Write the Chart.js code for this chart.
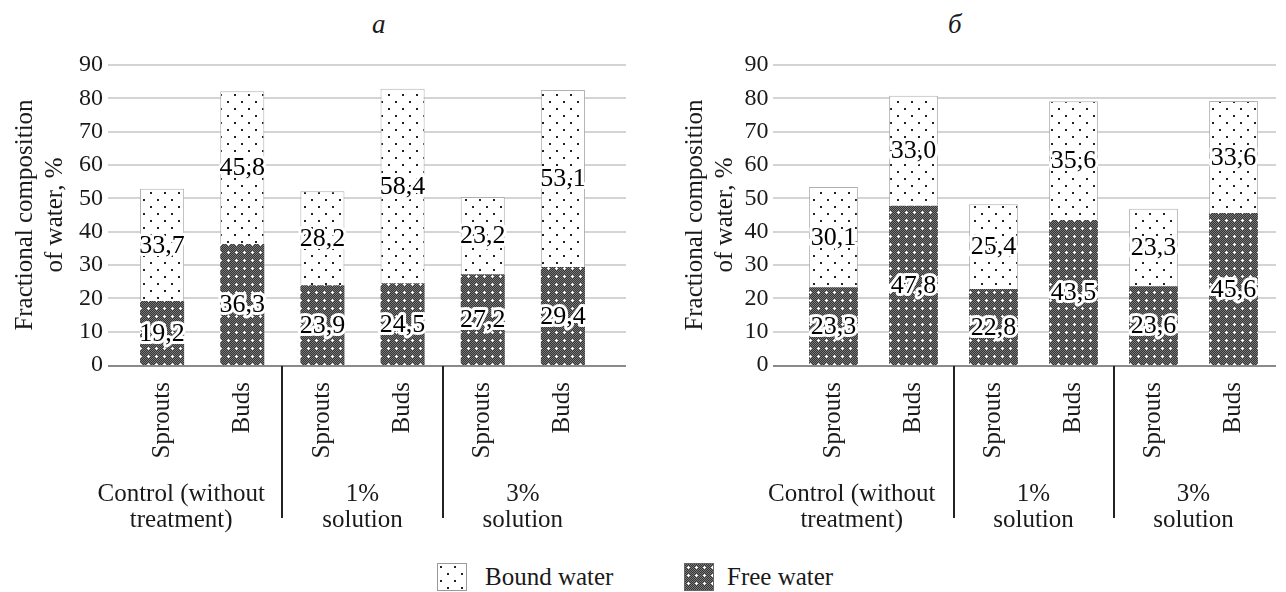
<!DOCTYPE html>
<html>
<head>
<meta charset="utf-8">
<script src="https://cdn.jsdelivr.net/npm/chart.js@4.4.0/dist/chart.umd.min.js"></script>
<style>
  html, body { margin: 0; padding: 0; background: #fff; }
  body { width: 1286px; height: 592px; position: relative; overflow: hidden;
         font-family: 'Liberation Serif', 'DejaVu Serif', serif; color: #1a1a1a; }
  .wrap { position: absolute; top: 0; height: 545px; }
  #wa { left: 0; width: 643px; }
  #wb { left: 670px; width: 616px; }
  .ttl { position: absolute; top: 8px; font-style: italic; font-size: 27px; line-height: 32px; }
  .lg-box { position: absolute; top: 563px; width: 30px; height: 28px; }
  .lg-txt { position: absolute; top: 563px; font-size: 25px; line-height: 28px; white-space: nowrap; }
</style>
</head>
<body>
<div class="ttl" id="ta" style="left:372px;">а</div>
<div class="ttl" id="tb" style="left:948px;">б</div>
<div class="wrap" id="wa"><canvas id="ca"></canvas></div>
<div class="wrap" id="wb"><canvas id="cb"></canvas></div>
<canvas class="lg-box" id="lgBound" width="30" height="28" style="left:437px;"></canvas>
<div class="lg-txt" style="left:485px;">Bound water</div>
<canvas class="lg-box" id="lgFree" width="30" height="28" style="left:684px;"></canvas>
<div class="lg-txt" style="left:727px;">Free water</div>
<script>
// ---------------- data ----------------
const categories = ['Sprouts', 'Buds', 'Sprouts', 'Buds', 'Sprouts', 'Buds'];
const groupLabels = [['Control (without', 'treatment)'], ['1%', 'solution'], ['3%', 'solution']];
const yTitle = ['Fractional composition', 'of water, %'];
const seriesNames = ['Free water', 'Bound water'];
const yMin = 0, yMax = 90, yStep = 10;

const freeA  = [19.2, 36.3, 23.9, 24.5, 27.2, 29.4];
const boundA = [33.7, 45.8, 28.2, 58.4, 23.2, 53.1];
const freeB  = [23.3, 47.8, 22.8, 43.5, 23.6, 45.6];
const boundB = [30.1, 33.0, 25.4, 35.6, 23.3, 33.6];

// ---------------- styling ----------------
const FONT = "'Liberation Serif', 'DejaVu Serif', serif";
const INK = '#1a1a1a';

function makeDotTile() {
  const c = document.createElement('canvas'); c.width = 14; c.height = 14;
  const g = c.getContext('2d');
  g.fillStyle = '#fff'; g.fillRect(0, 0, 14, 14);
  g.fillStyle = '#222';
  g.fillRect(3, 3, 2, 2); g.fillRect(10, 10, 2, 2);
  return c;
}
function makeFreeTile() {
  const c = document.createElement('canvas'); c.width = 8; c.height = 8;
  const g = c.getContext('2d');
  g.fillStyle = '#333'; g.fillRect(0, 0, 8, 8);
  g.fillStyle = '#7a7a7a';
  for (let y = 0; y < 8; y++) for (let x = 0; x < 8; x++) if ((x + y) % 2 === 0) g.fillRect(x, y, 1, 1);
  g.fillStyle = '#fff';
  g.fillRect(3, 4, 3, 1); g.fillRect(4, 3, 1, 3);
  return c;
}
const dotTile = makeDotTile();
const freeTile = makeFreeTile();

function patterns(ctx) {
  return { dot: ctx.createPattern(dotTile, 'repeat'), free: ctx.createPattern(freeTile, 'repeat') };
}

const fmt = v => v.toFixed(1).replace('.', ',');

const gridPlugin = {
  id: 'customGrid',
  beforeDatasetsDraw(chart, args, o) {
    const ctx = chart.ctx, ys = chart.scales.y;
    ctx.save();
    ctx.lineWidth = 2;
    ctx.strokeStyle = '#d4d4d4';
    ys.ticks.forEach(t => {
      if (t.value === 0) return;
      const py = Math.round(ys.getPixelForValue(t.value));
      ctx.beginPath(); ctx.moveTo(o.x0, py); ctx.lineTo(o.x1, py); ctx.stroke();
    });
    ctx.restore();
  },
  afterDatasetsDraw(chart, args, o) {
    const ctx = chart.ctx, ys = chart.scales.y, xs = chart.scales.x;
    const py = Math.round(ys.getPixelForValue(0)) + 1;
    ctx.save();
    ctx.lineWidth = 2; ctx.strokeStyle = '#8a8a8a';
    ctx.beginPath(); ctx.moveTo(o.x0, py); ctx.lineTo(o.x1, py); ctx.stroke();
    const seps = [(xs.getPixelForValue(1) + xs.getPixelForValue(2)) / 2,
                  (xs.getPixelForValue(3) + xs.getPixelForValue(4)) / 2];
    ctx.strokeStyle = '#222'; ctx.lineWidth = 2;
    seps.forEach(sx => {
      const x = Math.round(sx);
      ctx.beginPath(); ctx.moveTo(x, py); ctx.lineTo(x, o.sepBottom); ctx.stroke();
    });
    const bounds = [o.labelLeft, seps[0], seps[1], chart.chartArea.right];
    ctx.fillStyle = INK;
    ctx.font = '25px ' + FONT;
    ctx.textAlign = 'center'; ctx.textBaseline = 'middle';
    groupLabels.forEach((lines, i) => {
      const cx = (bounds[i] + bounds[i + 1]) / 2;
      lines.forEach((ln, j) => ctx.fillText(ln, cx, o.groupY + j * 26));
    });
    ctx.font = '26px ' + FONT;
    ctx.lineJoin = 'round';
    chart.data.datasets.forEach((ds, di) => {
      const meta = chart.getDatasetMeta(di);
      meta.data.forEach((bar, i) => {
        const cy = (bar.y + bar.base) / 2 + 1;
        const txt = fmt(ds.data[i]);
        ctx.strokeStyle = '#fff'; ctx.lineWidth = 6;
        ctx.strokeText(txt, bar.x, cy);
        ctx.fillStyle = '#000';
        ctx.fillText(txt, bar.x, cy);
      });
    });
    ctx.restore();
  }
};

function build(canvasId, free, bound, cfg) {
  const canvas = document.getElementById(canvasId);
  const ctx = canvas.getContext('2d');
  const p = patterns(ctx);
  return new Chart(canvas, {
    type: 'bar',
    data: {
      labels: categories,
      datasets: [
        { label: seriesNames[0], data: free, backgroundColor: p.free, borderWidth: 0,
          barPercentage: cfg.barPct, categoryPercentage: 1 },
        { label: seriesNames[1], data: bound, backgroundColor: p.dot, borderColor: '#b0b0b0',
          borderWidth: 1, barPercentage: cfg.barPct, categoryPercentage: 1 }
      ]
    },
    options: {
      responsive: true, maintainAspectRatio: false, animation: false,
      devicePixelRatio: 1,
      font: { family: FONT },
      layout: { padding: { left: 0, right: cfg.padRight, top: 65, bottom: 80 } },
      plugins: {
        legend: { display: false }, tooltip: { enabled: false }, title: { display: false },
        customGrid: { x0: cfg.x0, x1: cfg.x1, labelLeft: cfg.labelLeft, sepBottom: 518, groupY: 494 }
      },
      scales: {
        x: {
          stacked: true, offset: true,
          grid: { display: false, drawTicks: false }, border: { display: false },
          ticks: { minRotation: 90, maxRotation: 90, autoSkip: false, padding: 17,
                   color: INK, font: { family: FONT, size: 25 } },
          afterFit(s) { s.height = 100; }
        },
        y: {
          stacked: true, min: yMin, max: yMax,
          grid: { display: false, drawTicks: false }, border: { display: false },
          ticks: { stepSize: yStep, padding: cfg.tickPad, color: INK, font: { family: FONT, size: 24 } },
          title: { display: true, text: yTitle, color: INK, font: { family: FONT, size: 25 },
                   padding: { top: 10, bottom: 0 } },
          afterFit(s) { s.width = cfg.yWidth; }
        }
      }
    },
    plugins: [gridPlugin]
  });
}

build('ca', freeA, boundA, { barPct: 0.55, padRight: 40, yWidth: 122, tickPad: 19, x0: 108, x1: 626, labelLeft: 80 });
build('cb', freeB, boundB, { barPct: 0.61, padRight: 12.5, yWidth: 123.5, tickPad: 25, x0: 103, x1: 606, labelLeft: 80 });

function swatch(id, tile, border) {
  const c = document.getElementById(id), g = c.getContext('2d');
  g.fillStyle = g.createPattern(tile, 'repeat'); g.fillRect(0, 0, c.width, c.height);
  g.strokeStyle = border; g.lineWidth = 1; g.strokeRect(0.5, 0.5, c.width - 1, c.height - 1);
}
swatch('lgBound', dotTile, '#9a9a9a');
swatch('lgFree', freeTile, '#666');
</script>
</body>
</html>
